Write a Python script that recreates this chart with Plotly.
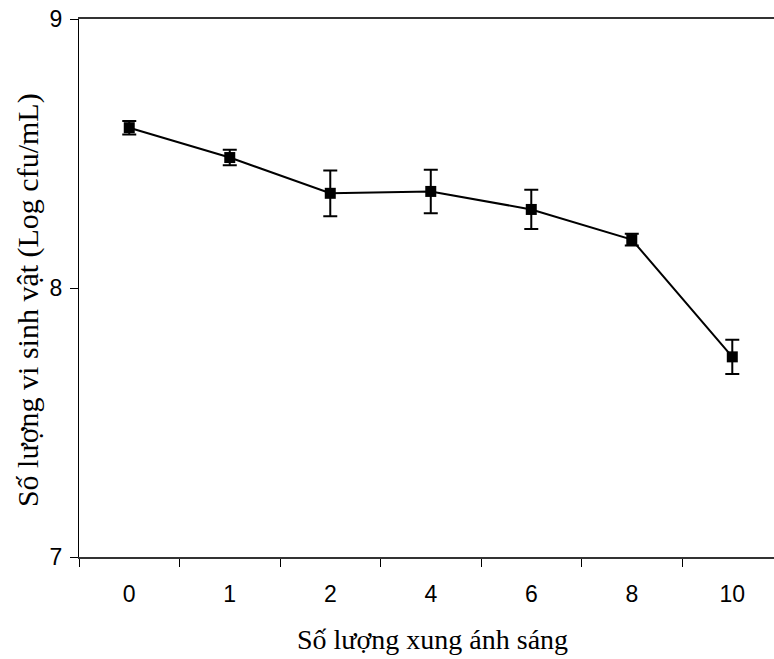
import plotly.graph_objects as go

categories = ["0", "1", "2", "4", "6", "8", "10"]
values = [8.596, 8.485, 8.352, 8.359, 8.292, 8.180, 7.744]
errors = [0.025, 0.029, 0.085, 0.081, 0.073, 0.022, 0.064]
y_ticks = [7, 8, 9]

x_title = "Số lượng xung ánh sáng"
y_title = "Số lượng vi sinh vật (Log cfu/mL)"

x_title_font = dict(family="Liberation Serif, Times New Roman", size=28, color="black")
y_title_font = dict(family="Liberation Serif, Times New Roman", size=30, color="black")
tick_font = dict(family="Liberation Sans, Arial", size=23, color="black")

fig = go.Figure(
    go.Scatter(
        x=categories,
        y=values,
        mode="lines+markers",
        line=dict(color="black", width=2),
        marker=dict(symbol="square", size=11, color="black"),
        error_y=dict(type="data", array=errors, visible=True, color="black",
                     thickness=2, width=7),
    )
)

fig.update_layout(
    width=774,
    height=659,
    margin=dict(l=79, r=0, t=19, b=102),
    paper_bgcolor="white",
    plot_bgcolor="white",
    showlegend=False,
    annotations=[
        dict(text=x_title, xref="paper", yref="paper", x=0.509, y=-0.153,
             xanchor="center", yanchor="middle", showarrow=False, font=x_title_font),
        dict(text=y_title, xref="paper", yref="paper", x=-0.073, y=0.478,
             xanchor="center", yanchor="middle", textangle=-90, showarrow=False,
             font=y_title_font),
    ],
)

fig.update_xaxes(
    type="category",
    range=[-0.5, 6.415],
    tickson="boundaries",
    ticks="outside",
    ticklen=8,
    tickcolor="black",
    showline=True,
    linecolor="#333333",
    linewidth=1.5,
    mirror=True,
    showgrid=False,
    automargin=False,
    ticklabelstandoff=16,
    tickfont=tick_font,
)

fig.update_yaxes(
    range=[7, 9],
    tickvals=y_ticks,
    ticks="outside",
    ticklen=8,
    tickcolor="black",
    showline=True,
    linecolor="black",
    linewidth=1,
    showgrid=False,
    zeroline=False,
    automargin=False,
    ticklabelstandoff=3,
    tickfont=tick_font,
)

fig.write_html(
    "out.html",
    config={"displayModeBar": False},
    post_script="document.body.style.margin='0';document.body.style.padding='0';",
)
